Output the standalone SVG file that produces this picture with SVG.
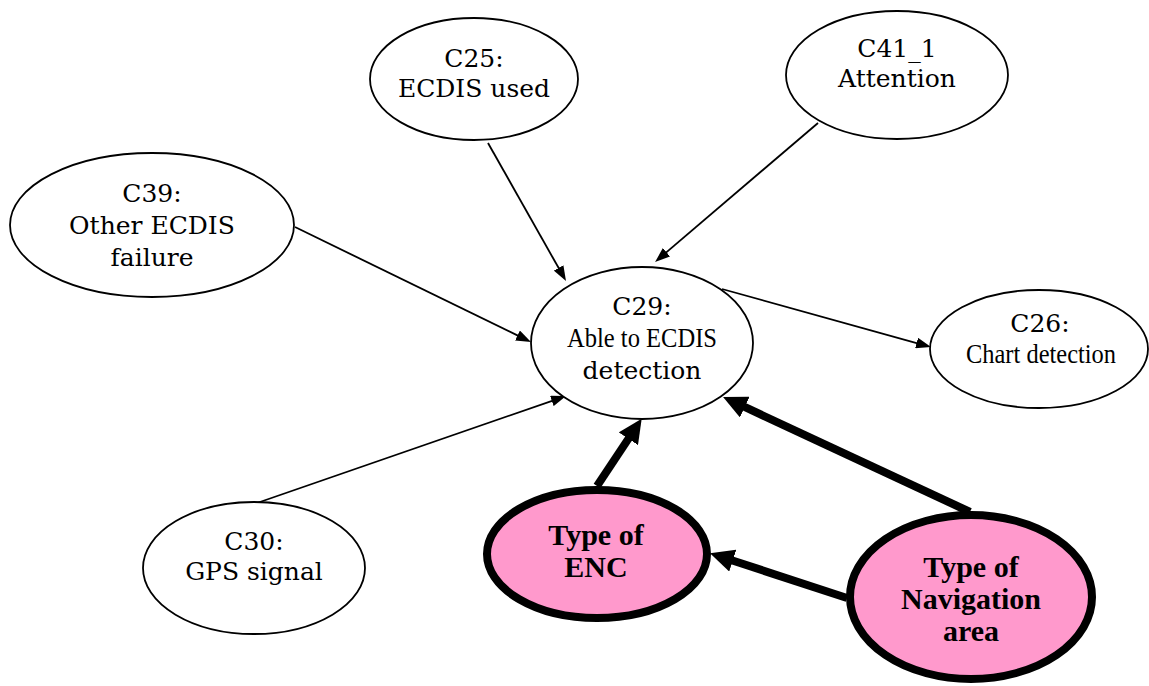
<svg xmlns="http://www.w3.org/2000/svg" width="1149" height="686" viewBox="0 0 1149 686">
  <style>
    .node { fill: #ffffff; stroke: #000000; stroke-width: 1.8; }
    .key { fill: #ff99cc; stroke: #000000; stroke-width: 8; }
    .lbl { font-family: "DejaVu Serif", "Liberation Serif", serif; font-size: 25px; fill: #000; text-anchor: middle; }
    .narrow { font-family: "Liberation Serif", "Times New Roman", serif; font-size: 28px; fill: #000; text-anchor: middle; }
    .bold { font-family: "Liberation Serif", "Times New Roman", serif; font-size: 30px; font-weight: bold; fill: #000; text-anchor: middle; }
    .thin { stroke: #000; stroke-width: 1.8; fill: none; marker-end: url(#headThin); }
    .thick { stroke: #000; stroke-width: 8; fill: none; marker-end: url(#headThick); }
  </style>
  <defs>
    <marker id="headThin" markerUnits="userSpaceOnUse" markerWidth="15" markerHeight="11" refX="1" refY="5.5" orient="auto">
      <path d="M0,0 L15,5.5 L0,11 Z" fill="#000"/>
    </marker>
    <marker id="headThick" markerUnits="userSpaceOnUse" markerWidth="24" markerHeight="23" refX="2" refY="11.5" orient="auto">
      <path d="M0,0 L24,11.5 L0,23 Z" fill="#000"/>
    </marker>
  </defs>
  <rect width="1149" height="686" fill="#ffffff"/>

  <g id="connectors">
    <line class="thin" x1="488" y1="143" x2="559.1" y2="268.8"/>
    <line class="thin" x1="818" y1="123" x2="665.7" y2="252.9"/>
    <line class="thin" x1="295" y1="227" x2="518.4" y2="335.9"/>
    <line class="thin" x1="722" y1="289" x2="917.5" y2="343.3"/>
    <line class="thin" x1="257" y1="503" x2="552.8" y2="400.6"/>
    <line class="thick" x1="597" y1="486" x2="629.5" y2="437.1"/>
    <line class="thick" x1="970" y1="512" x2="743" y2="406.2"/>
    <line class="thick" x1="847" y1="598" x2="730.9" y2="560"/>
  </g>

  <g id="C25">
    <ellipse class="node" cx="474" cy="79" rx="104" ry="61"/>
    <text class="lbl" x="474" y="67">C25:</text>
    <text class="lbl" x="474" y="97">ECDIS used</text>
  </g>
  <g id="C41_1">
    <ellipse class="node" cx="897" cy="75" rx="111" ry="64"/>
    <text class="lbl" x="897" y="57">C41_1</text>
    <text class="lbl" x="897" y="87">Attention</text>
  </g>
  <g id="C39">
    <ellipse class="node" cx="152" cy="225" rx="142" ry="72"/>
    <text class="lbl" x="152" y="202">C39:</text>
    <text class="lbl" x="152" y="234">Other ECDIS</text>
    <text class="lbl" x="152" y="266">failure</text>
  </g>
  <g id="C29">
    <ellipse class="node" cx="642" cy="343" rx="111" ry="76"/>
    <text class="lbl" x="642" y="315">C29:</text>
    <text class="narrow" x="642" y="347" textLength="150" lengthAdjust="spacingAndGlyphs">Able to ECDIS</text>
    <text class="lbl" x="642" y="379">detection</text>
  </g>
  <g id="C26">
    <ellipse class="node" cx="1039" cy="349" rx="109" ry="59"/>
    <text class="lbl" x="1040" y="332">C26:</text>
    <text class="narrow" x="1041" y="363" textLength="150" lengthAdjust="spacingAndGlyphs">Chart detection</text>
  </g>
  <g id="C30">
    <ellipse class="node" cx="254" cy="568" rx="111" ry="66"/>
    <text class="lbl" x="254" y="550">C30:</text>
    <text class="lbl" x="254" y="580">GPS signal</text>
  </g>
  <g id="TypeOfENC">
    <ellipse class="key" cx="597" cy="554" rx="110" ry="64"/>
    <text class="bold" x="596" y="545">Type of</text>
    <text class="bold" x="596" y="577">ENC</text>
  </g>
  <g id="TypeOfNavigationArea">
    <ellipse class="key" cx="971" cy="597" rx="121" ry="82"/>
    <text class="bold" x="971" y="577">Type of</text>
    <text class="bold" x="971" y="609">Navigation</text>
    <text class="bold" x="971" y="641">area</text>
  </g>
</svg>
